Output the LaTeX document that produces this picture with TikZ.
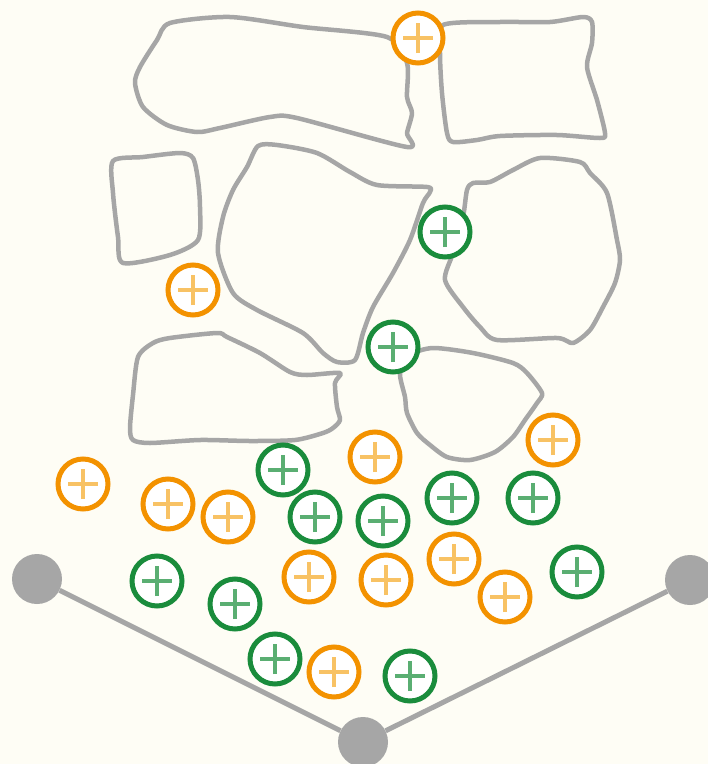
\documentclass[tikz,border=0pt]{standalone}
\usepackage{tikz}
\usetikzlibrary{calc}
\definecolor{figbg}{RGB}{254,253,245}
\definecolor{figgray}{RGB}{166,166,166}
\definecolor{ringor}{RGB}{243,146,0}
\definecolor{crossor}{RGB}{248,194,100}
\definecolor{ringgr}{RGB}{26,140,60}
\definecolor{crossgr}{RGB}{90,174,114}
\tikzset{
  blob/.style ={draw=figgray, line width=4.5pt, line join=round},
  link/.style ={draw=figgray, line width=5pt},
  hub/.style  ={circle, fill=figgray, minimum size=50pt, inner sep=0pt},
  ringnode/.style={circle, draw=#1, fill=white, line width=5pt, minimum size=50pt, inner sep=0pt},
  crossin/.style={path picture={
      \draw[#1, line width=4.5pt]
        ($(path picture bounding box.center)+(-15pt,0)$) -- ($(path picture bounding box.center)+(15pt,0)$)
        ($(path picture bounding box.center)+(0,-15pt)$) -- ($(path picture bounding box.center)+(0,15pt)$);}},
  opin/.style ={ringnode=ringor, crossin=crossor},
  gpin/.style ={ringnode=ringgr, crossin=crossgr},
}
\begin{document}
\begin{tikzpicture}[x=1pt,y=-1pt]
  \fill[figbg] (0,0) rectangle (708,764);
  \useasboundingbox (0,0) rectangle (708,764);
  % outlines
  \draw[blob] plot[smooth cycle, tension=0.45] coordinates {(170,23) (230,17) (303,27) (387,37) (407,63) (407,97) (412,113) (407,133) (407,147) (297,118) (270,117) (220,128) (197,132) (167,125) (143,107) (135,83) (140,67) (157,40)};
  \draw[blob] plot[smooth cycle, tension=0.45] coordinates {(443,25) (500,22) (550,22) (583,17) (592,22) (592,43) (587,67) (597,100) (605,133) (600,138) (557,135) (500,136) (477,140) (453,142) (447,133) (442,93) (440,53)};
  \draw[blob] plot[smooth cycle, tension=0.45] coordinates {(113,161) (143,157) (180,153) (193,158) (198,180) (200,207) (198,240) (170,255) (123,263) (118,237) (113,193)};
  \draw[blob] plot[smooth cycle, tension=0.45] coordinates {(258,146) (277,145) (317,153) (350,172) (377,185) (427,187) (430,192) (423,203) (410,240) (393,273) (373,307) (363,333) (355,360) (337,362) (323,353) (303,333) (257,310) (233,293) (218,253) (223,217) (233,190) (247,167)};
  \draw[blob] plot[smooth cycle, tension=0.45] coordinates {(473,183) (490,182) (513,170) (540,158) (580,162) (590,173) (607,193) (617,240) (620,260) (615,283) (603,307) (590,330) (573,343) (557,338) (497,340) (480,327) (463,307) (445,280) (453,253) (463,217) (467,190)};
  \draw[blob] plot[smooth cycle, tension=0.45] coordinates {(138,357) (153,343) (170,338) (217,333) (227,337) (260,353) (290,372) (307,375) (340,373) (335,383) (337,407) (340,420) (333,428) (323,433) (295,440) (250,441) (200,440) (150,443) (133,440) (130,428) (133,395)};
  \draw[blob] plot[smooth cycle, tension=0.45] coordinates {(433,348) (473,353) (513,363) (527,373) (542,393) (537,403) (525,420) (513,437) (495,452) (470,460) (447,457) (430,445) (417,433) (407,413) (405,397) (400,373) (410,355)};
  % hubs and links
  \node[hub] (hl) at (37,579) {};
  \node[hub] (hb) at (363,742) {};
  \node[hub] (hr) at (690,580) {};
  \draw[link] (hl) -- (hb) -- (hr);
  % orange pins
  \node[opin] (o1) at (418,38) {};
  \node[opin] (o2) at (193,290) {};
  \node[opin] (o3) at (375,457) {};
  \node[opin] (o4) at (553,440) {};
  \node[opin] (o5) at (83,484) {};
  \node[opin] (o6) at (168,504) {};
  \node[opin] (o7) at (228,517) {};
  \node[opin] (o8) at (454,559) {};
  \node[opin] (o9) at (309,577) {};
  \node[opin] (o10) at (386,580) {};
  \node[opin] (o11) at (505,597) {};
  \node[opin] (o12) at (334,672) {};
  % green pins
  \node[gpin] (g1) at (445,232) {};
  \node[gpin] (g2) at (393,347) {};
  \node[gpin] (g3) at (283,470) {};
  \node[gpin] (g4) at (315,517) {};
  \node[gpin] (g5) at (383,521) {};
  \node[gpin] (g6) at (452,498) {};
  \node[gpin] (g7) at (533,498) {};
  \node[gpin] (g8) at (157,581) {};
  \node[gpin] (g9) at (235,604) {};
  \node[gpin] (g10) at (577,572) {};
  \node[gpin] (g11) at (275,659) {};
  \node[gpin] (g12) at (410,676) {};
\end{tikzpicture}
\end{document}
